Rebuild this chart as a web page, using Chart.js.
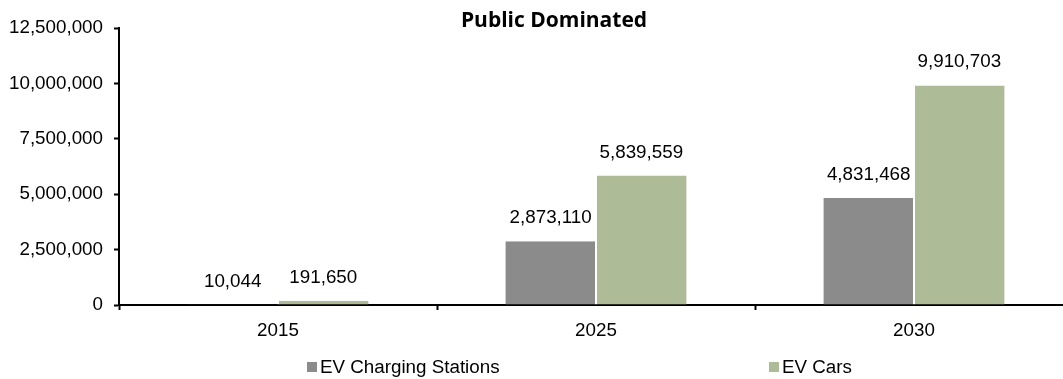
<!DOCTYPE html>
<html>
<head>
<meta charset="utf-8">
<script src="https://cdn.jsdelivr.net/npm/chart.js@4/dist/chart.umd.min.js"></script>
<style>
  html, body { margin: 0; padding: 0; background: #fff; overflow: hidden; }
  #wrap { width: 1073px; height: 379px; }
</style>
</head>
<body>
<div id="wrap"><canvas id="c" width="1073" height="379"></canvas></div>
<script>
const chartTitle = 'Public Dominated';
const years = ['2015', '2025', '2030'];
const seriesNames = ['EV Charging Stations', 'EV Cars'];
const chargingStations = [10044, 2873110, 4831468];
const evCars = [191650, 5839559, 9910703];
const yTicks = [0, 2500000, 5000000, 7500000, 10000000, 12500000];

const seriesColors = ['#8b8b8b', '#adbb96'];
const FONT = '"Liberation Sans", Arial, sans-serif';
const FONT_SIZE = 18.8;

const fmt = v => v.toLocaleString('en-US');

// Title, value labels and legend drawn on the canvas
const decorations = {
  id: 'decorations',
  afterDatasetsDraw(chart) {
    const ctx = chart.ctx;
    ctx.save();
    // value labels above each bar
    ctx.font = FONT_SIZE + 'px ' + FONT;
    ctx.fillStyle = '#000';
    ctx.textAlign = 'center';
    ctx.textBaseline = 'alphabetic';
    chart.data.datasets.forEach((ds, i) => {
      const meta = chart.getDatasetMeta(i);
      meta.data.forEach((bar, j) => {
        ctx.fillText(fmt(ds.data[j]), bar.x, bar.y - 18);
      });
    });
    // title
    ctx.font = 'bold 21px "Open Sans", Lato, sans-serif';
    ctx.fillText(chartTitle, 554, 27);
    // legend
    ctx.font = FONT_SIZE + 'px ' + FONT;
    ctx.textAlign = 'left';
    const legendX = [307, 769];
    chart.data.datasets.forEach((ds, i) => {
      ctx.fillStyle = seriesColors[i];
      ctx.fillRect(legendX[i], 362, 10, 10);
      ctx.fillStyle = '#000';
      ctx.fillText(ds.label, legendX[i] + 13, 373);
    });
    ctx.restore();
  }
};

new Chart(document.getElementById('c'), {
  type: 'bar',
  data: {
    labels: years,
    datasets: [
      { label: seriesNames[0], data: chargingStations, backgroundColor: seriesColors[0],
        borderColor: '#ffffff', borderWidth: { left: 0, right: 1, top: 0, bottom: 0 }, borderSkipped: false },
      { label: seriesNames[1], data: evCars, backgroundColor: seriesColors[1],
        borderColor: '#ffffff', borderWidth: { left: 1, right: 0, top: 0, bottom: 0 }, borderSkipped: false }
    ]
  },
  options: {
    responsive: false,
    animation: false,
    devicePixelRatio: 1,
    layout: { padding: { top: 28, right: 0, bottom: 34, left: 0 } },
    datasets: { bar: { categoryPercentage: 0.57, barPercentage: 1.0 } },
    plugins: {
      legend: { display: false },
      title: { display: false },
      tooltip: { enabled: false }
    },
    scales: {
      x: {
        grid: { display: true, drawOnChartArea: false, drawTicks: true, tickLength: 5,
                tickColor: '#000', tickWidth: 2, offset: true },
        border: { display: true, color: '#000', width: 2 },
        ticks: { color: '#000', font: { family: FONT, size: FONT_SIZE }, padding: 10 },
        afterFit(scale) { scale.height = 40; }
      },
      y: {
        min: 0,
        max: 12500000,
        afterBuildTicks(scale) { scale.ticks = yTicks.map(v => ({ value: v })); },
        grid: { display: true, drawOnChartArea: false, drawTicks: true, tickLength: 5,
                tickColor: '#000', tickWidth: 2 },
        border: { display: true, color: '#000', width: 2 },
        ticks: { color: '#000', font: { family: FONT, size: FONT_SIZE }, padding: 11,
                 callback: v => fmt(v) },
        afterFit(scale) { scale.width = 119; }
      }
    }
  },
  plugins: [decorations]
});
</script>
</body>
</html>
